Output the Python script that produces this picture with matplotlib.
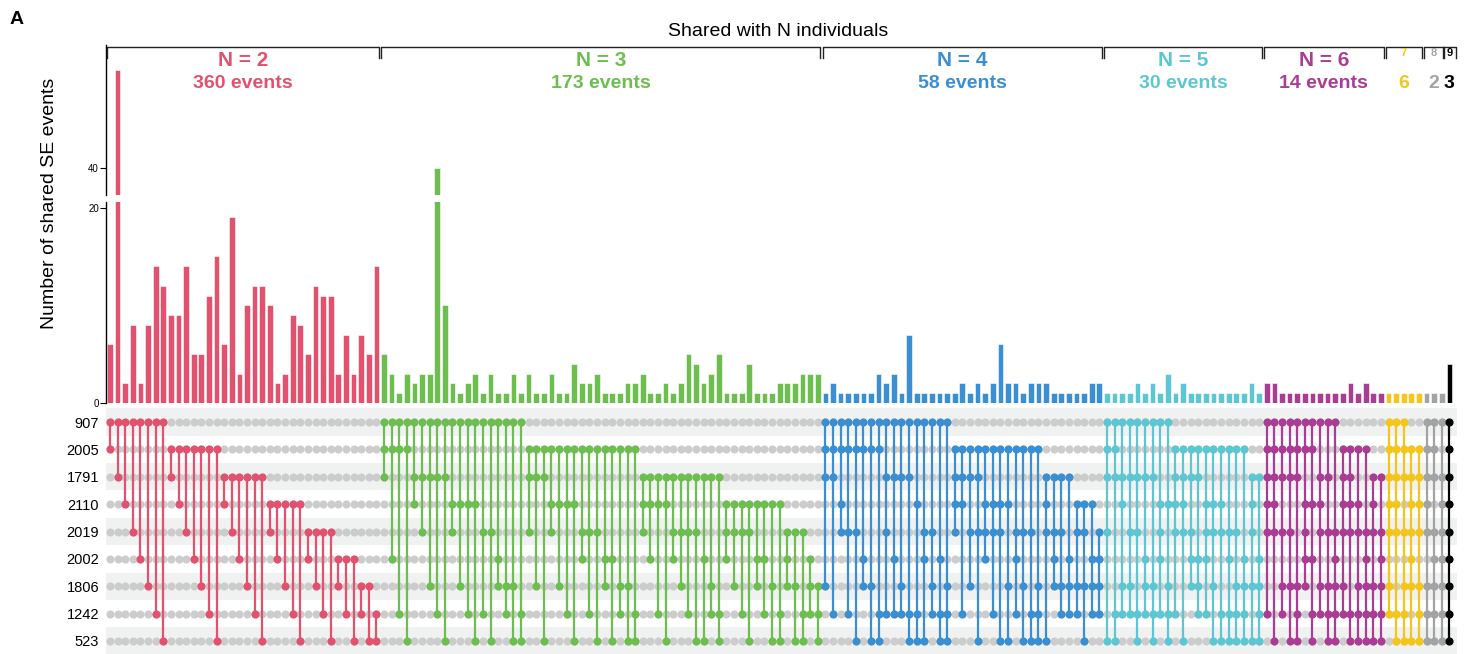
import matplotlib.pyplot as plt
import numpy as np

plt.rcParams['font.family'] = ['Liberation Sans', 'DejaVu Sans']

# individuals (matrix rows, top to bottom)
individuals = ['907', '2005', '1791', '2110', '2019', '2002', '1806', '1242', '523']

# intersections per N: row indices of the individuals sharing the event
combos_n2 = ['01', '02', '03', '04', '05', '06', '07', '08', '12', '13', '14', '15',
             '16', '17', '18', '23', '24', '25', '26', '27', '28', '34', '35', '36',
             '37', '38', '45', '46', '47', '48', '56', '57', '58', '67', '68', '78']
counts_n2 = [6, 50, 2, 8, 2, 8, 14, 12, 9, 9, 14, 5, 5, 11, 15, 6, 19, 3,
             10, 12, 12, 10, 2, 3, 9, 8, 5, 12, 11, 11, 3, 7, 3, 7, 5, 14]

combos_n3 = ['012', '015', '017', '018', '023', '024', '026', '027', '028', '034',
             '036', '037', '038', '047', '048', '056', '067', '068', '078', '124',
             '126', '128', '134', '136', '137', '138', '145', '147', '148', '156',
             '158', '167', '168', '178', '234', '235', '237', '238', '245', '246',
             '247', '248', '258', '267', '278', '345', '346', '347', '348', '356',
             '357', '368', '378', '456', '468', '478', '567', '678']
counts_n3 = [5, 3, 1, 3, 2, 3, 3, 40, 10, 2, 1, 2, 3, 1, 3, 1, 1, 3, 1, 3,
             1, 1, 3, 1, 1, 4, 2, 2, 3, 1, 1, 1, 2, 2, 3, 1, 1, 2, 1, 2,
             5, 4, 2, 3, 5, 1, 1, 1, 4, 1, 1, 1, 2, 2, 2, 3, 3, 3]

combos_n4 = ['0126', '0127', '0134', '0147', '0148', '0156', '0168', '0178', '0247',
             '0257', '0267', '0278', '0378', '0458', '0467', '0578', '0678', '1234',
             '1237', '1246', '1248', '1345', '1347', '1348', '1368', '1457', '1468',
             '1478', '1678', '2348', '2456', '2467', '2567', '3467', '3468', '3567',
             '4567']
counts_n4 = [1, 2, 1, 1, 1, 1, 1, 3, 2, 3, 1, 7, 1, 1, 1, 1, 1, 1, 2, 1,
             2, 1, 2, 6, 2, 2, 1, 2, 2, 2, 1, 1, 1, 1, 1, 2, 2]

combos_n5 = ['01248', '01278', '02367', '02467', '02478', '02567', '02678', '03457',
             '03678', '12347', '12348', '12456', '12567', '13457', '13468', '13478',
             '14578', '14678', '15678', '23468', '25678']
counts_n5 = [1, 1, 1, 1, 2, 1, 2, 1, 3, 1, 2, 1, 1, 1, 1, 1, 1, 1, 1, 2, 1]

combos_n6 = ['012347', '012348', '012467', '012468', '012678', '013456', '013578',
             '023467', '024678', '045678', '123467', '123478', '134678', '145678',
             '234678', '245678']
counts_n6 = [2, 2, 1, 1, 1, 1, 1, 1, 1, 1, 1, 2, 1, 2, 1, 1]

combos_n7 = ['0123467', '0123478', '0124678', '1234568', '1234678']
counts_n7 = [1, 1, 1, 1, 1]

combos_n8 = ['01234678', '01245678', '02345678']
counts_n8 = [1, 1, 1]

combos_n9 = ['012345678']
counts_n9 = [4]

group_n = [2, 3, 4, 5, 6, 7, 8, 9]
group_events = [360, 173, 58, 30, 14, 6, 2, 3]
group_colors = ['#e2516e', '#6cbf4f', '#3a8fd2', '#5cc7d2', '#ab3c93',
                '#f5c518', '#a3a3a3', '#000000']

all_combos = [combos_n2, combos_n3, combos_n4, combos_n5, combos_n6,
              combos_n7, combos_n8, combos_n9]
all_counts = [counts_n2, counts_n3, counts_n4, counts_n5, counts_n6,
              counts_n7, counts_n8, counts_n9]

# flatten into columns
combos, counts, colors, groups = [], [], [], []
for g, (cb, ct) in enumerate(zip(all_combos, all_counts)):
    combos += cb
    counts += ct
    colors += [group_colors[g]] * len(cb)
    groups += [g] * len(cb)
counts = np.array(counts)
groups = np.array(groups)
ncol = len(combos)
x = np.arange(ncol)
nrow = len(individuals)

W, H = 1473, 654
fig = plt.figure(figsize=(W / 100, H / 100), dpi=100)

def rect(left, top, right, bottom):
    return [left / W, 1 - bottom / H, (right - left) / W, (bottom - top) / H]

x0, x1 = 106, 1457
xlim = (-0.53, ncol)

ax_up = fig.add_axes(rect(x0, 45, x1, 195))
ax_lo = fig.add_axes(rect(x0, 202, x1, 403))
ax_m = fig.add_axes(rect(x0, 407, x1, 656))
ax_top = fig.add_axes(rect(x0, 0, x1, 100))

# bars (broken axis)
for ax in (ax_up, ax_lo):
    ax.bar(x, counts, width=0.75, color=colors, edgecolor='white', linewidth=0.4)
    ax.set_xlim(xlim)
    for s in ['top', 'right', 'bottom']:
        ax.spines[s].set_visible(False)
    ax.spines['left'].set_linewidth(1.0)
    ax.set_xticks([])
    ax.tick_params(axis='y', labelsize=7, length=4, width=0.8, pad=1)
ax_lo.set_ylim(0, 20.57)
ax_lo.set_yticks([0, 20])
ax_up.set_ylim(37.24, 52.6)
ax_up.set_yticks([40])

fig.text(50 / W, 1 - 203 / H, 'Number of shared SE events', rotation=90,
         ha='center', va='center', fontsize=14)

# matrix
ax_m.set_xlim(xlim)
ax_m.set_ylim(nrow - 0.45, -0.55)
for r in range(0, nrow, 2):
    ax_m.axhspan(r - 0.5, r + 0.5, color='#f0f1f1', lw=0, zorder=0)
xx, yy = np.meshgrid(x, np.arange(nrow))
ax_m.scatter(xx.ravel(), yy.ravel(), s=34, color='#cccccc', lw=0, zorder=1)
for i, cb in enumerate(combos):
    rows = [int(c) for c in cb]
    ax_m.plot([i, i], [min(rows), max(rows)], color=colors[i], lw=1.6, zorder=2)
    ax_m.scatter([i] * len(rows), rows, s=34, color=colors[i], lw=0, zorder=3)
ax_m.set_yticks(range(nrow))
ax_m.set_yticklabels(individuals, fontsize=10.5)
ax_m.tick_params(axis='y', length=0, pad=5)
ax_m.set_xticks([])
for s in ax_m.spines.values():
    s.set_visible(False)

# header: brackets and group labels
ax_top.set_xlim(xlim)
ax_top.set_ylim(100, 0)
ax_top.axis('off')
for g, n in enumerate(group_n):
    cols = x[groups == g]
    pad = 0.35 if len(cols) > 1 else 0.9
    a, b = cols.min() - pad, cols.max() + pad
    ax_top.plot([a, a, b, b], [58, 46.5, 46.5, 58], color='#222222', lw=1.0,
                clip_on=False)
    c = (a + b) / 2
    col = group_colors[g]
    if n <= 6:
        ax_top.text(c, 61, 'N = %d' % n, ha='center', va='center', fontsize=15,
                    fontweight='bold', color=col)
    else:
        ax_top.text(c, 53, str(n), ha='center', va='center', fontsize=8,
                    fontweight='bold', color=col)
    txt = '%d events' % group_events[g] if n <= 6 else str(group_events[g])
    ax_top.text(c, 84, txt, ha='center', va='center', fontsize=14,
                fontweight='bold', color=col)

fig.text(778 / W, 1 - 31 / H, 'Shared with N individuals', ha='center',
         va='center', fontsize=14)
fig.text(10 / W, 1 - 20 / H, 'A', ha='left', va='center', fontsize=14,
         fontweight='bold')

fig.savefig('out.png', dpi=100)
